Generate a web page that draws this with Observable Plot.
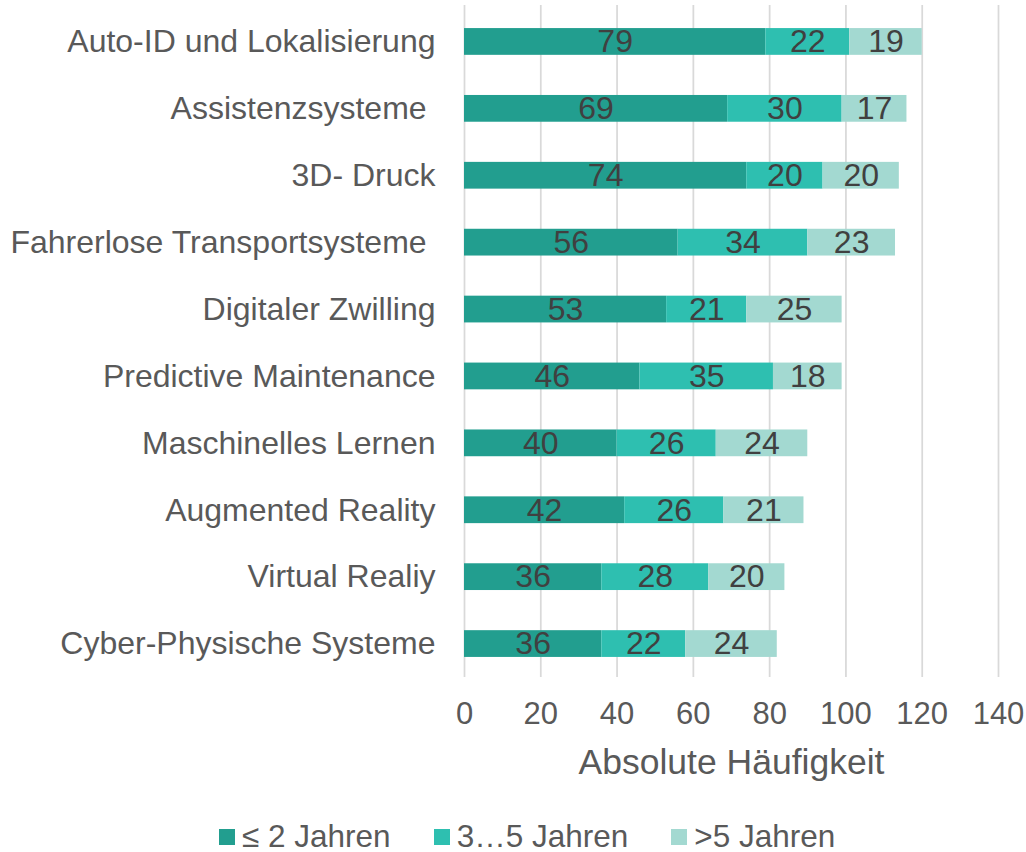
<!DOCTYPE html>
<html><head><meta charset="utf-8">
<script src="https://cdn.jsdelivr.net/npm/d3@7"></script>
<script src="https://cdn.jsdelivr.net/npm/@observablehq/plot@0.6"></script>
<style>
body{margin:0;background:#fff;font-family:"Liberation Sans",Arial,sans-serif;overflow:hidden;}
#chart svg{display:block;}
#legend{display:flex;align-items:center;height:31px;line-height:31px;margin-top:21px;padding-left:219px;font-size:31.5px;color:#595959;}
.item{display:flex;align-items:center;margin-right:43px;}
.sw{width:16px;height:16px;margin-right:7px;}
</style></head><body>
<div id="chart"></div><div id="legend"></div>
<script>
const categories = ["Auto-ID und Lokalisierung","Assistenzsysteme ","3D- Druck","Fahrerlose Transportsysteme ","Digitaler Zwilling","Predictive Maintenance","Maschinelles Lernen","Augmented Reality","Virtual Realiy","Cyber-Physische Systeme"];
const series = ["≤ 2 Jahren","3…5 Jahren",">5 Jahren"];
const upTo2 = [79,69,74,56,53,46,40,42,36,36];
const from3to5 = [22,30,20,34,21,35,26,26,28,22];
const over5 = [19,17,20,23,25,18,24,21,20,24];
const colors = ["#229e8f","#2ebfb0","#a3d9d1"];
const xTicks = [0,20,40,60,80,100,120,140];
const axisTitle = "Absolute Häufigkeit";

const seriesValues = [upTo2, from3to5, over5];
const data = [];
categories.forEach((c,i)=>{
  series.forEach((s,j)=>data.push({cat:c, series:s, value:seriesValues[j][i]}));
});

const chart = Plot.plot({
  width:1026, height:800,
  marginLeft:464, marginRight:28, marginTop:5, marginBottom:123,
  style:{fontFamily:"Liberation Sans, Arial, sans-serif", background:"#fff"},
  x:{domain:[0,140], axis:null},
  y:{domain:categories, range:[8,677], paddingInner:0.6, paddingOuter:0.3, round:false, axis:null},
  color:{domain:series, range:colors},
  marks:[
    Plot.gridX(xTicks, {stroke:"#d9d9d9", strokeOpacity:1, strokeWidth:1.75}),
    Plot.barX(data, Plot.stackX({x:"value", y:"cat", fill:"series", order:null})),
    Plot.text(data, Plot.stackX({x:"value", y:"cat", z:"series", text:d=>String(d.value), order:null, fontSize:32, fill:"#404040"})),
    Plot.axisY({tickSize:0, tickPadding:29, fontSize:32, color:"#595959", label:null, tickFormat:d=>d.replace(/ $/,"\u00a0")}),
    Plot.text(xTicks, {x:d=>d, frameAnchor:"bottom", lineAnchor:"middle", dy:37, fontSize:31, fill:"#595959", text:d=>String(d)}),
    Plot.text([axisTitle], {frameAnchor:"bottom", lineAnchor:"middle", dy:85, fontSize:35.5, fill:"#595959"})
  ]
});
document.getElementById("chart").appendChild(chart);

const legend = document.getElementById("legend");
series.forEach((s,j)=>{
  const item = document.createElement("div"); item.className="item";
  const sw = document.createElement("div"); sw.className="sw"; sw.style.background=colors[j];
  const t = document.createElement("span"); t.textContent=s;
  item.appendChild(sw); item.appendChild(t); legend.appendChild(item);
});
</script></body></html>
